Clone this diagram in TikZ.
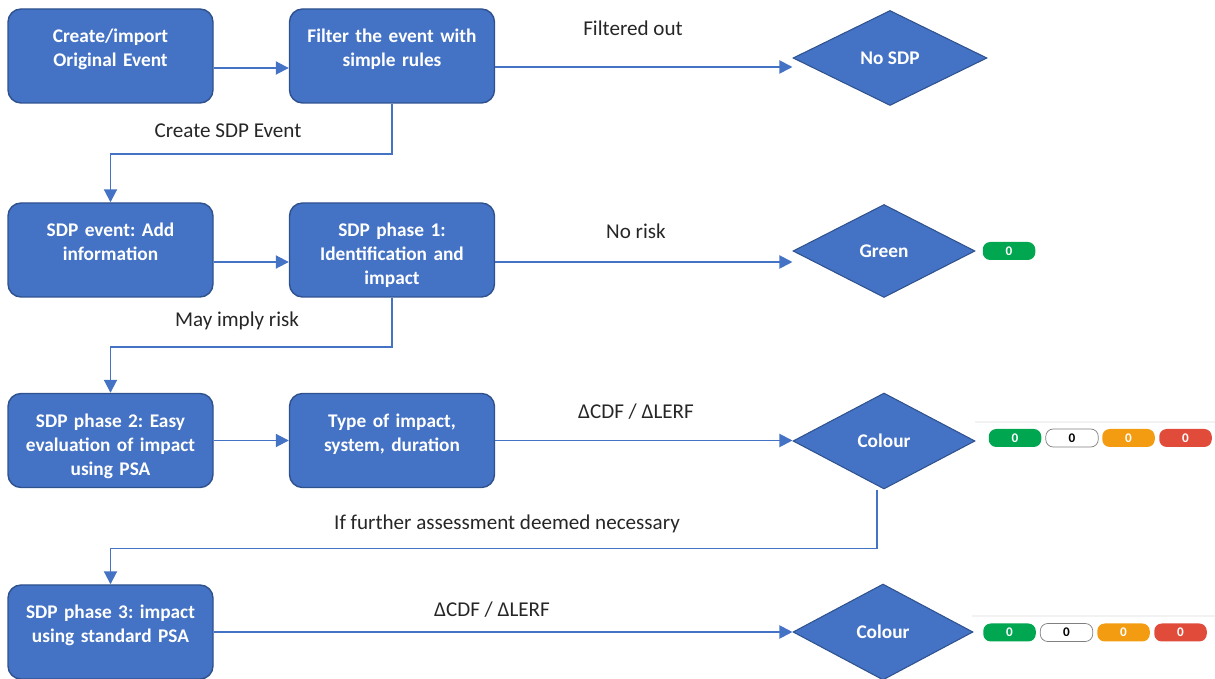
\documentclass[tikz,border=0pt]{standalone}
\usepackage{fontspec}
\setmainfont{Carlito}
\frenchspacing
\usetikzlibrary{shapes.geometric,arrows.meta}
\definecolor{boxblue}{HTML}{4472C4}
\definecolor{boxedge}{HTML}{2F528F}
\definecolor{badgegreen}{HTML}{00A650}
\definecolor{badgeorange}{HTML}{F39C12}
\definecolor{badgered}{HTML}{E04B3A}
\begin{document}
\begin{tikzpicture}[
  box/.style={draw=boxedge,fill=boxblue,line width=0.8pt,rounded corners=2.6mm,
    text=white,font=\fontsize{11}{13.6}\selectfont\bfseries,align=center,
    text width=4.1cm,inner xsep=0pt,inner ysep=0pt,text height=0.68cm,text depth=1.2cm},
  decision/.style={draw=boxedge,fill=boxblue,line width=0.6pt,diamond,inner sep=0pt,
    text=white,font=\fontsize{11}{13}\selectfont\bfseries},
  lbl/.style={font=\fontsize{12}{14}\selectfont,text=black!85},
  badge/.style={rounded corners=1.5mm,minimum width=1.05cm,minimum height=0.36cm,
    inner sep=0pt,text=white,font=\fontsize{7.5}{8}\selectfont\bfseries},
  flow/.style={draw=boxblue,line width=1.1pt,-{Triangle[length=2.6mm,width=2.6mm]}}
]
\useasboundingbox (0,0) rectangle (24.3,-13.58);

\node[box] (orig) at (2.21,-1.12) {Create/import\\Original Event};
\node[box] (filt) at (7.84,-1.12) {Filter the event with\\simple rules};
\node[decision,minimum width=3.88cm,minimum height=1.9cm] (nosdp) at (17.8,-1.16) {No SDP};

\node[box] (sdpev) at (2.21,-5.0) {SDP event: Add\\information};
\node[box] (ph1) at (7.84,-5.0) {SDP phase 1:\\Identification and\\impact};
\node[decision,minimum width=3.64cm,minimum height=1.86cm] (green) at (17.68,-5.02) {Green};

\node[box] (ph2) at (2.21,-8.81) {SDP phase 2: Easy\\evaluation of impact\\using PSA};
\node[box] (type) at (7.84,-8.81) {Type of impact,\\system, duration};
\node[decision,minimum width=3.64cm,minimum height=1.92cm] (col1) at (17.68,-8.82) {Colour};

\node[box] (ph3) at (2.21,-12.64) {SDP phase 3: impact\\using standard PSA};
\node[decision,minimum width=3.6cm,minimum height=1.92cm] (col2) at (17.66,-12.64) {Colour};

\draw[flow] ([yshift=-2.4mm]orig.east) -- ([yshift=-2.4mm]filt.west);
\draw[flow] ([yshift=-2.2mm]filt.east) -- ([yshift=-2.2mm]filt.east -| nosdp.west);
\draw[flow] (filt.south) -- ++(0,-1.0) -| (sdpev.north);
\draw[flow] ([yshift=-2.4mm]sdpev.east) -- ([yshift=-2.4mm]ph1.west);
\draw[flow] ([yshift=-2.4mm]ph1.east) -- ([yshift=-2.4mm]ph1.east -| green.west);
\draw[flow] (ph1.south) -- ++(0,-0.98) -| (ph2.north);
\draw[flow] (ph2.east) -- (type.west);
\draw[flow] (type.east) -- (type.east -| col1.west);
\draw[flow] ([xshift=-1.4mm]col1.south) -- ++(0,-1.18) -| (ph3.north);
\draw[flow] (ph3.east) -- (ph3.east -| col2.west);

\node[lbl] (lfilt) at (12.66,-0.56) {Filtered out};
\node[lbl] (lcreate) at (4.56,-2.62) {Create SDP Event};
\node[lbl] (lnorisk) at (12.72,-4.62) {No risk};
\node[lbl] (lmay) at (4.74,-6.42) {May imply risk};
\node[lbl] (ldelta1) at (12.72,-8.24) {ΔCDF / ΔLERF};
\node[lbl] (lfurther) at (10.14,-10.48) {If further assessment deemed necessary};
\node[lbl] (ldelta2) at (9.84,-12.2) {ΔCDF / ΔLERF};

\draw[gray!10,line width=0.6pt] (19.5,-8.44) -- (24.3,-8.44);
\draw[gray!10,line width=0.6pt] (19.44,-12.32) -- (24.3,-12.32);

\node[badge,fill=badgegreen] (g0) at (20.18,-5.02) {0};

\node[badge,fill=badgegreen] (c1g) at (20.3,-8.76) {0};
\node[badge,draw=gray,fill=white,text=black] (c1w) at (21.44,-8.76) {0};
\node[badge,fill=badgeorange] (c1o) at (22.57,-8.76) {0};
\node[badge,fill=badgered] (c1r) at (23.71,-8.76) {0};

\node[badge,fill=badgegreen] (c2g) at (20.19,-12.65) {0};
\node[badge,draw=gray,fill=white,text=black] (c2w) at (21.33,-12.65) {0};
\node[badge,fill=badgeorange] (c2o) at (22.47,-12.65) {0};
\node[badge,fill=badgered] (c2r) at (23.61,-12.65) {0};
\end{tikzpicture}
\end{document}
